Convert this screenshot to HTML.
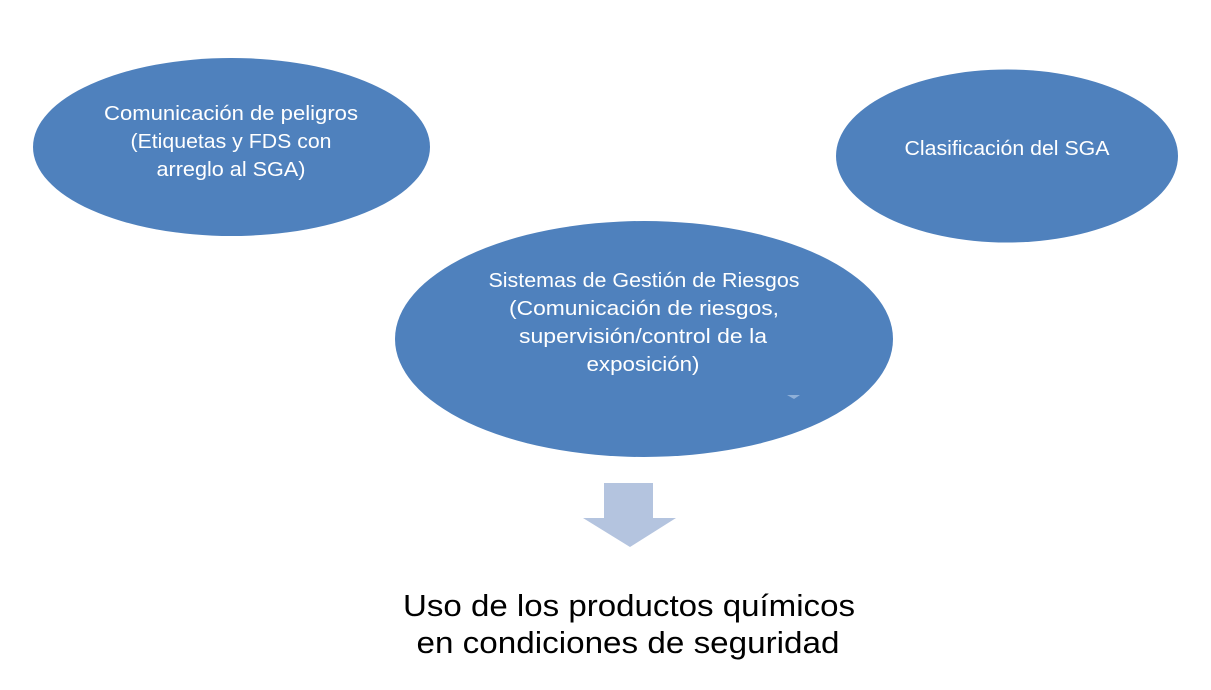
<!DOCTYPE html>
<html><head><meta charset="utf-8"><style>
html,body{margin:0;padding:0;background:#fff;}
svg{display:block;}
text{font-family:"Liberation Sans",sans-serif;}
</style></head><body>
<svg width="1211" height="690" viewBox="0 0 1211 690" xmlns="http://www.w3.org/2000/svg">
<ellipse cx="231.5" cy="147" rx="198.5" ry="89" fill="#4f81bd"/>
<ellipse cx="1007" cy="156" rx="171" ry="86.5" fill="#4f81bd"/>
<ellipse cx="644" cy="339" rx="249" ry="118" fill="#4f81bd"/>
<path d="M787 395 L800 395 L794 399 Z" fill="#8fb0d8"/>
<g fill="#fff" font-size="20.5" text-anchor="middle" lengthAdjust="spacingAndGlyphs">
<text x="231" y="120" textLength="254" lengthAdjust="spacingAndGlyphs">Comunicación de peligros</text>
<text x="231" y="148" textLength="201" lengthAdjust="spacingAndGlyphs">(Etiquetas y FDS con</text>
<text x="231" y="176" textLength="149" lengthAdjust="spacingAndGlyphs">arreglo al SGA)</text>
<text x="1007" y="155" textLength="205" lengthAdjust="spacingAndGlyphs">Clasificación del SGA</text>
<text x="644" y="287" textLength="311" lengthAdjust="spacingAndGlyphs">Sistemas de Gestión de Riesgos</text>
<text x="644" y="315" textLength="270" lengthAdjust="spacingAndGlyphs">(Comunicación de riesgos,</text>
<text x="643" y="343" textLength="248" lengthAdjust="spacingAndGlyphs">supervisión/control de la</text>
<text x="643" y="371" textLength="113" lengthAdjust="spacingAndGlyphs">exposición)</text>
</g>
<path d="M604 483 L653 483 L653 518 L676 518 L630 547 L583 518 L604 518 Z" fill="#b4c4df"/>
<g fill="#000" font-size="31" text-anchor="middle">
<text x="629" y="616" textLength="452" lengthAdjust="spacingAndGlyphs">Uso de los productos químicos</text>
<text x="628" y="653" textLength="423" lengthAdjust="spacingAndGlyphs">en condiciones de seguridad</text>
</g>
</svg>
</body></html>
